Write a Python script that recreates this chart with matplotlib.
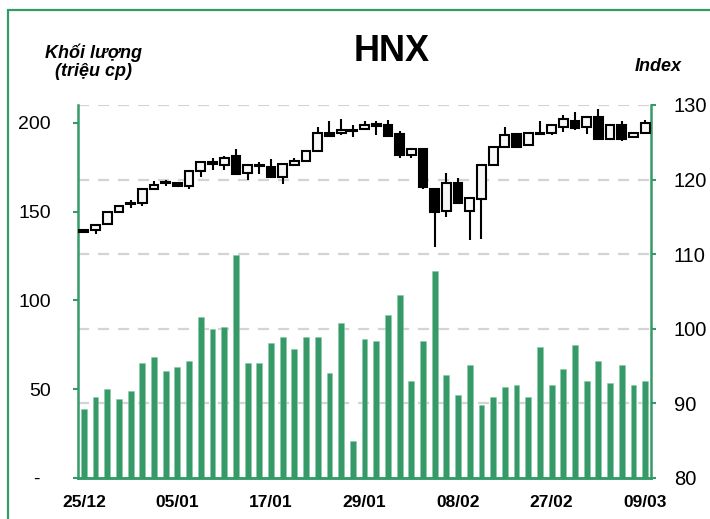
import matplotlib
matplotlib.use("Agg")
import matplotlib.pyplot as plt
from matplotlib.patches import Rectangle
import numpy as np

plt.rcParams['font.family'] = ['Liberation Sans', 'DejaVu Sans']

# volume (million shares), one per trading day
volume = [38.7, 45.6, 50.1, 44.5, 49.0, 64.6, 68.0, 60.1, 62.4, 65.7,
          90.5, 83.8, 84.9, 125.5, 64.6, 64.6, 75.9, 79.2, 72.7, 79.2,
          79.2, 59.2, 87.1, 20.8, 78.1, 77.0, 91.6, 102.9, 54.5, 77.0,
          116.4, 57.8, 46.6, 63.5, 41.1, 45.6, 51.3, 52.2, 45.6, 73.6,
          52.2, 61.2, 74.8, 54.5, 65.7, 53.3, 63.5, 52.2, 54.5]

# HNX index candles
opens = [113.2, 113.2, 114.0, 115.6, 116.9, 116.9, 118.7, 119.6, 119.5, 119.1,
         121.2, 122.3, 122.0, 123.1, 120.9, 122.0, 121.7, 120.3, 121.95, 122.5,
         123.8, 126.3, 126.2, 126.7, 126.8, 127.4, 127.3, 126.1, 123.3, 124.1,
         118.8, 115.8, 119.6, 115.8, 117.45, 121.96, 124.4, 126.07, 124.6, 126.3,
         126.2, 127.0, 127.9, 127.0, 128.4, 125.4, 127.3, 125.7, 126.2]
highs = [113.3, 113.95, 115.7, 116.4, 117.2, 118.75, 119.8, 119.95, 119.7, 121.2,
         122.3, 122.9, 123.1, 124.1, 122.0, 122.4, 122.7, 122.05, 122.9, 123.9,
         127.0, 127.8, 128.1, 127.3, 127.85, 127.8, 128.0, 126.5, 124.1, 124.2,
         118.8, 120.9, 120.25, 117.5, 121.96, 124.4, 127.0, 126.2, 126.3, 127.8,
         127.3, 128.7, 129.1, 128.35, 129.4, 127.3, 127.8, 126.2, 128.0]
lows = [112.8, 112.7, 113.9, 115.6, 116.2, 116.5, 118.7, 119.1, 119.0, 118.8,
        120.4, 121.3, 121.3, 120.6, 119.9, 120.75, 120.3, 119.4, 121.9, 122.5,
        123.8, 125.9, 126.0, 125.75, 126.8, 126.0, 125.9, 122.9, 122.9, 118.8,
        110.9, 115.0, 116.7, 111.9, 112.1, 121.9, 124.4, 124.2, 124.6, 126.0,
        126.0, 126.35, 126.65, 126.07, 125.4, 125.4, 125.2, 125.6, 126.2]
closes = [113.0, 113.9, 115.6, 116.4, 116.7, 118.75, 119.3, 119.5, 119.1, 121.2,
          122.3, 122.1, 122.9, 120.8, 122.0, 121.8, 120.3, 122.05, 122.5, 123.9,
          126.2, 125.9, 126.7, 126.5, 127.3, 127.2, 125.9, 123.3, 124.06, 119.0,
          115.6, 119.6, 116.8, 117.5, 121.96, 124.4, 126.0, 124.4, 126.3, 126.1,
          127.3, 128.1, 126.9, 128.35, 125.4, 127.3, 125.5, 126.2, 127.55]

tick_pos = [0, 8, 16, 24, 32, 40, 48]
tick_labels = ['25/12', '05/01', '17/01', '29/01', '08/02', '27/02', '09/03']

green = '#359a68'
x = np.arange(len(volume))

fig = plt.figure(figsize=(7.1, 5.19), dpi=100)
ax = fig.add_axes([0.1099, 0.079, 0.807, 0.7187])
ax2 = ax.twinx()

ax.set_xlim(-0.5, len(volume) - 0.5)
ax.set_ylim(0, 210)
ax2.set_ylim(80, 130)

# dashed grid belongs to the index axis, drawn behind the volume bars
for g in [90, 100, 110, 120, 130]:
    ax.axhline((g - 80) / 50 * 210, color='#d4d4d4', lw=1.6, ls=(0, (5, 4)), zorder=0)

ax.bar(x, volume, width=0.5, color=green, edgecolor='#8cc7a8', lw=0.4, zorder=2)

o = np.array(opens); c = np.array(closes)
up = c >= o
body_bot = np.minimum(o, c)
body_h = np.maximum(np.abs(c - o), 0.12)
ax2.vlines(x, lows, highs, color='black', lw=1.5, zorder=3)
ax2.bar(x[up], body_h[up], bottom=body_bot[up], width=0.75,
        color='#f7f7f7', edgecolor='black', lw=1.5, zorder=4)
ax2.bar(x[~up], body_h[~up], bottom=body_bot[~up], width=0.75,
        color='black', edgecolor='black', lw=1.5, zorder=4)

ax.set_yticks([0, 50, 100, 150, 200])
ax.set_yticklabels(['-  ', '50', '100', '150', '200'])
ax2.set_yticks([80, 90, 100, 110, 120, 130])
ax.set_xticks(tick_pos)
ax.set_xticklabels(tick_labels, fontweight='bold', fontsize=12.5)

for a in (ax, ax2):
    a.spines['top'].set_visible(False)
    for s in ('left', 'right', 'bottom'):
        a.spines[s].set_color(green)
        a.spines[s].set_linewidth(1.8)
ax2.spines['left'].set_visible(False)
ax.spines['right'].set_visible(False)
ax.tick_params(axis='y', colors=green, length=3.5, width=1.5, pad=16, labelsize=14, labelcolor='black')
ax.tick_params(axis='x', length=0, pad=12)
ax2.tick_params(axis='y', colors=green, length=3.5, width=1.5, pad=13, labelsize=14.5, labelcolor='black')

fig.text(0.552, 0.90, 'HNX', fontsize=26, fontweight='bold', ha='center', va='center')
fig.text(0.131, 0.898, 'Khối lượng', fontsize=13, fontweight='bold', style='italic', ha='center', va='center')
fig.text(0.131, 0.862, '(triệu cp)', fontsize=13, fontweight='bold', style='italic', ha='center', va='center')
fig.text(0.927, 0.871, 'Index', fontsize=13, fontweight='bold', style='italic', ha='center', va='center')

fig.patches.append(Rectangle((8 / 710, -0.2), 1.2, 1.2 - 10 / 519,
                             transform=fig.transFigure, fill=False,
                             edgecolor=green, lw=1.6))

fig.savefig('out.png', dpi=100)
